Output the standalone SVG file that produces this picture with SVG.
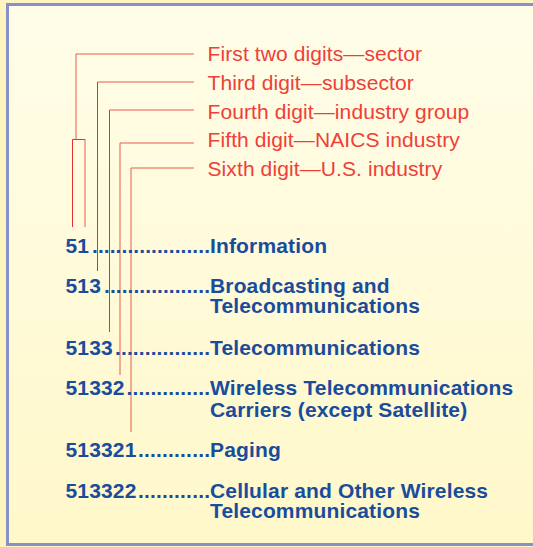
<svg xmlns="http://www.w3.org/2000/svg" width="533" height="547" viewBox="0 0 533 547">
  <defs>
    <linearGradient id="bg" gradientUnits="userSpaceOnUse" x1="0" y1="6" x2="0" y2="543">
      <stop offset="0" stop-color="#FFFDE9"/>
      <stop offset="1" stop-color="#FFF8CA"/>
    </linearGradient>
    <style>
      .lbl { font-family: "Liberation Sans", Arial, sans-serif; font-size: 21px; fill: #EE4038; letter-spacing: 0.1px; }
      .code { font-family: "Liberation Sans", Arial, sans-serif; font-size: 21px; font-weight: bold; fill: #1A4C9C; letter-spacing: 0.15px; }
      .dots { font-family: "Liberation Sans", Arial, sans-serif; font-size: 21px; font-weight: bold; fill: #1A4C9C; }
      .dark { fill: none; stroke: #E2302C; stroke-width: 1; }
      .pink { fill: none; stroke: #EC5A4C; stroke-width: 1; }
    </style>
  </defs>
  <rect x="0" y="0" width="533" height="547" fill="#FFF5C0"/>
  <path d="M900,4.5 H7.5 V544.5 H900" fill="url(#bg)" stroke="#8890C8" stroke-width="3"/>

  <g id="connectors">
    <path class="pink" d="M194,54 H76 V139"/>
    <path class="dark" d="M72.5,227 V139.5 H85"/>
    <path class="pink" d="M85,139 V227"/>
    <path class="pink" d="M194,82 H97.5"/>
    <path class="dark" d="M97.5,82 V271"/>
    <path class="pink" d="M194,110 H109.5"/>
    <path class="dark" d="M109.5,110 V332"/>
    <path class="pink" d="M194,143 H120 V375"/>
    <path class="pink" d="M194,168 H131 V432"/>
  </g>

  <g id="label-sector"><text class="lbl" x="207.5" y="60.7">First two digits—sector</text></g>
  <g id="label-subsector"><text class="lbl" x="207.5" y="90">Third digit—subsector</text></g>
  <g id="label-industry-group"><text class="lbl" x="207.5" y="118.5">Fourth digit—industry group</text></g>
  <g id="label-naics-industry"><text class="lbl" x="207.5" y="147.3">Fifth digit—NAICS industry</text></g>
  <g id="label-us-industry"><text class="lbl" x="207.5" y="176">Sixth digit—U.S. industry</text></g>

  <g id="node-51">
    <text class="code" x="65.5" y="252.5">51</text>
    <text class="dots" x="92" y="252.5" textLength="118" lengthAdjust="spacing">....................</text>
    <text class="code" x="210" y="252.5">Information</text>
  </g>
  <g id="node-513">
    <text class="code" x="65.5" y="292.5">513</text>
    <text class="dots" x="104" y="292.5" textLength="106" lengthAdjust="spacing">..................</text>
    <text class="code" x="210" y="292.5">Broadcasting and</text>
    <text class="code" x="210" y="313">Telecommunications</text>
  </g>
  <g id="node-5133">
    <text class="code" x="65.5" y="355">5133</text>
    <text class="dots" x="115" y="355" textLength="95" lengthAdjust="spacing">................</text>
    <text class="code" x="210" y="355">Telecommunications</text>
  </g>
  <g id="node-51332">
    <text class="code" x="65.5" y="395">51332</text>
    <text class="dots" x="126.5" y="395" textLength="83.5" lengthAdjust="spacing">..............</text>
    <text class="code" x="210" y="395">Wireless Telecommunications</text>
    <text class="code" x="210" y="416.5">Carriers (except Satellite)</text>
  </g>
  <g id="node-513321">
    <text class="code" x="65.5" y="457">513321</text>
    <text class="dots" x="138" y="457" textLength="72" lengthAdjust="spacing">............</text>
    <text class="code" x="210" y="457">Paging</text>
  </g>
  <g id="node-513322">
    <text class="code" x="65.5" y="497.5">513322</text>
    <text class="dots" x="138" y="497.5" textLength="72" lengthAdjust="spacing">............</text>
    <text class="code" x="210" y="497.5">Cellular and Other Wireless</text>
    <text class="code" x="210" y="518">Telecommunications</text>
  </g>
</svg>
